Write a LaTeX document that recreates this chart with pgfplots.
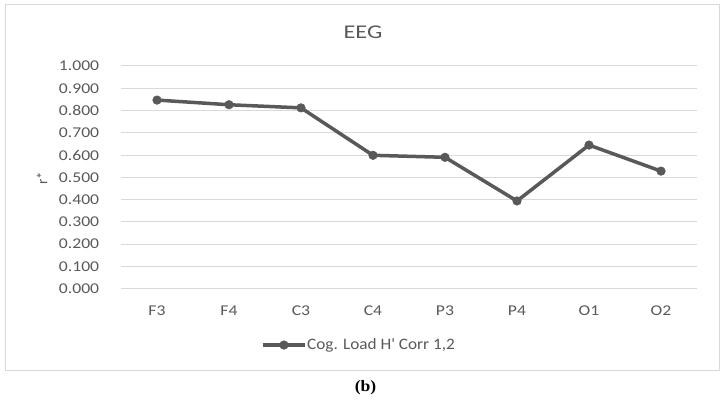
\documentclass[border=0pt]{standalone}
\usepackage{graphicx}
\usepackage{pgfplots}
\pgfplotsset{compat=1.18}
\usepackage{fontspec}
\setmainfont{Carlito}
\newfontfamily\capfont{Liberation Serif}
\definecolor{txt}{HTML}{595959}
\definecolor{ln}{HTML}{595959}
\definecolor{grd}{HTML}{D9D9D9}
\begin{document}
\begin{tikzpicture}[x=1bp,y=1bp]
\useasboundingbox (0,0) rectangle (724,400);
\draw[draw=grd, line width=1bp] (5,30) rectangle (719,395);
\node[text=txt, font=\fontsize{19.5}{22}\selectfont, xscale=1.25] at (363,368) {EEG};
\node[text=txt, font=\fontsize{15}{18}\selectfont, rotate=90] at (42,222) {r*};
\node[font=\capfont\bfseries\fontsize{16}{18}\selectfont, xscale=1.1] at (365.5,12) {(b)};
\begin{axis}[
  at={(121bp,111.3bp)}, anchor=south west,
  scale only axis, width=576bp, height=222.7bp,
  xmin=-0.5, xmax=7.5, ymin=0, ymax=1,
  xtick={0,...,7},
  xticklabels={F3,F4,C3,C4,P3,P4,O1,O2},
  ytick={0,0.1,...,1.0},
  /pgf/number format/fixed,
  /pgf/number format/fixed zerofill,
  /pgf/number format/precision=3,
  /pgf/number format/assume math mode=true,
  ticklabel style={text=txt, font=\fontsize{15}{17}\selectfont, xscale=1.18},
  xticklabel style={yshift=-14bp},
  yticklabel style={xshift=-15bp},
  axis line style={draw=none},
  major tick length=0pt,
  ymajorgrids, grid style={draw=grd, line width=1bp},
  legend style={draw=none, fill=none, at={(0.412,-0.253)}, anchor=center,
    font=\fontsize{16}{18}\selectfont, text=txt,
    nodes={inner sep=0.5bp}},
  legend cell align=left,
  legend image code/.code={%
    \draw[mark repeat=2, mark phase=2, #1] plot coordinates {(0bp,0bp) (21bp,0bp) (42bp,0bp)};},
]
\addplot[color=ln, line width=3.5bp, mark=*, mark size=4.3bp, mark options={line width=0.5bp}]
  coordinates {(0,0.847) (1,0.826) (2,0.812) (3,0.599) (4,0.590) (5,0.394) (6,0.645) (7,0.528)};
\addlegendentry{\scalebox{1.08}[1]{Cog. Load H\textquotesingle{} Corr 1,2}}
\end{axis}
\end{tikzpicture}
\end{document}
